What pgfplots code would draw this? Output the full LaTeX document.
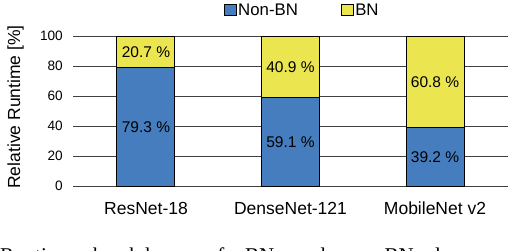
\documentclass[border=0pt]{standalone}
\usepackage{pgfplots}
\pgfplotsset{compat=1.18}
\usepackage{fontspec}
\setmainfont{Liberation Sans}
\newfontfamily\capfont{Liberation Serif}
\definecolor{nonbn}{RGB}{70,125,190}
\definecolor{bn}{RGB}{235,230,80}

\begin{document}
\begin{tikzpicture}[x=1pt,y=1pt]
\begin{axis}[
  at={(73pt,64pt)}, anchor=south west,
  scale only axis, width=435pt, height=150pt,
  ybar stacked, bar width=58pt,
  xmin=-0.505, xmax=2.505, ymin=0, ymax=100,
  xtick=data, xticklabels={ResNet-18,DenseNet-121,MobileNet v2},
  ytick={0,20,...,100},
  ymajorgrids, grid style={black!75, line width=0.9pt},
  axis line style={draw=none},
  major tick length=0pt,
  /pgf/number format/assume math mode=true,
  yticklabel style={font=\fontsize{13.6}{14}\selectfont, inner sep=0pt, xshift=-10pt},
  xticklabel style={font=\fontsize{17.5}{18}\selectfont, inner sep=0pt, anchor=north, yshift=-16pt},
  ylabel={Relative Runtime [\%]},
  ylabel style={font=\fontsize{17.5}{18}\selectfont, at={(axis description cs:-0.132,0.527)}, anchor=center},
  legend columns=2,
  legend style={at={(0.527,1.173)}, anchor=center, draw=none, fill=none,
    font=\fontsize{16.8}{17}\selectfont, nodes={inner sep=1.5pt},
    /tikz/every even column/.append style={column sep=42pt}},
  legend image code/.code={\draw[#1, draw=black, line width=0.8pt] (0pt,-5.7pt) rectangle (11.5pt,5.7pt);},
]
\addplot[fill=nonbn, draw=black, line width=1pt] coordinates {(0,79.3) (1,59.1) (2,39.2)};
\addlegendentry{Non-BN}
\addplot[fill=bn, draw=black, line width=1pt] coordinates {(0,20.7) (1,40.9) (2,60.8)};
\addlegendentry{BN}
\end{axis}
\begin{axis}[
  at={(73pt,64pt)}, anchor=south west,
  scale only axis, width=435pt, height=150pt,
  xmin=-0.505, xmax=2.505, ymin=0, ymax=100, hide axis,
  nodes near coords, point meta=explicit symbolic,
  every node near coord/.append style={anchor=center, text=black, font=\fontsize{15.5}{16}\selectfont},
]
\addplot[draw=none, mark=none] coordinates {
  (0,39.0) [79.3 \%] (1,28.9) [59.1 \%] (2,19.0) [39.2 \%]
  (0,89.0) [20.7 \%] (1,78.9) [40.9 \%] (2,69.0) [60.8 \%]};
\end{axis}
\begin{scope}[every node/.style={anchor=base west, inner sep=0pt, font=\capfont\fontsize{21}{21}\selectfont}]
\node at (0,-12) {Runtime};
\node at (92.8,-12) {breakdown};
\node at (206.6,-12) {of};
\node at (245,-12) {BN};
\node at (295,-12) {and};
\node at (346,-12) {non-BN};
\node at (435,-12) {layers};
\end{scope}
\pgfresetboundingbox
\useasboundingbox (0,0) rectangle (508,250);
\end{tikzpicture}
\end{document}
